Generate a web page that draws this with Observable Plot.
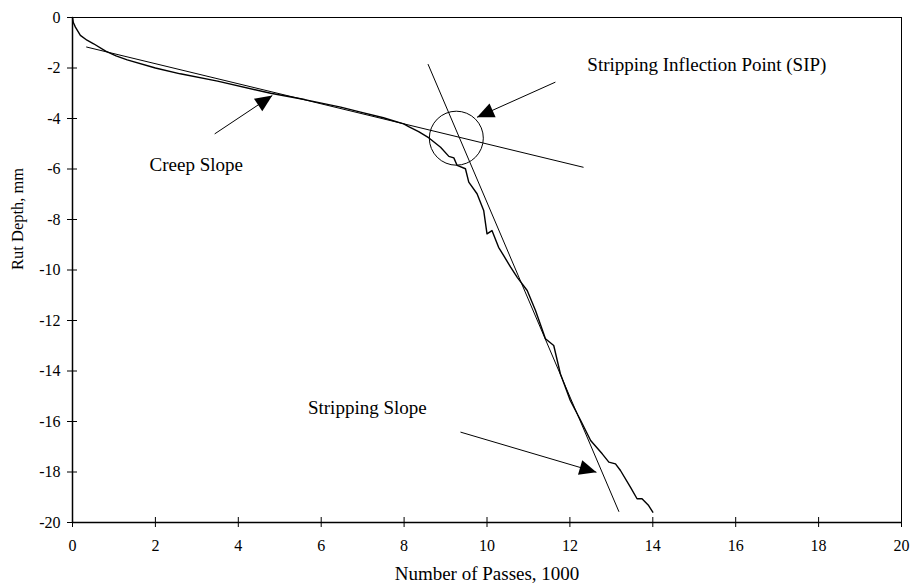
<!DOCTYPE html>
<html>
<head>
<meta charset="utf-8">
<script src="https://cdn.jsdelivr.net/npm/d3@7"></script>
<script src="https://cdn.jsdelivr.net/npm/@observablehq/plot@0.6"></script>
<style>
  html, body { margin: 0; padding: 0; background: #fff; }
  #chart svg { display: block; }
</style>
</head>
<body>
<div id="chart"></div>
<script>
// Measured rut depth (mm) against wheel passes (thousands)
const passes = [0, 0.02, 0.07, 0.19, 0.35, 0.51, 0.80, 1.05, 1.32, 2.0, 2.60, 3.5, 4.78, 5.6,
  6.47, 6.95, 7.5, 7.99, 8.11, 8.35, 8.60, 8.88, 9.08, 9.20, 9.28, 9.48, 9.56, 9.76, 9.92,
  10.00, 10.12, 10.28, 10.41, 10.57, 10.73, 10.97, 11.17, 11.41, 11.61, 11.77, 12.01, 12.26,
  12.50, 12.78, 12.94, 13.10, 13.22, 13.46, 13.62, 13.74, 13.90, 14.00];
const rutDepth = [0, -0.2, -0.38, -0.71, -0.9, -1.04, -1.33, -1.52, -1.68, -2.0, -2.23, -2.52, -3.00, -3.25,
  -3.55, -3.75, -3.97, -4.21, -4.32, -4.52, -4.77, -5.14, -5.50, -5.56, -5.86, -5.99, -6.52, -6.98, -7.64,
  -8.57, -8.44, -9.10, -9.45, -9.89, -10.29, -10.81, -11.60, -12.72, -12.99, -14.11, -15.17, -15.96,
  -16.75, -17.28, -17.61, -17.68, -17.94, -18.60, -19.06, -19.06, -19.33, -19.59];

// Fitted tangent lines (end points)
const creepLineX = [0.34, 12.32];
const creepLineY = [-1.17, -5.93];
const strippingLineX = [8.58, 13.18];
const strippingLineY = [-1.86, -19.56];

// Stripping inflection point marker
const sipX = [9.26];
const sipY = [-4.78];

// Annotation labels and their pointer arrows
const noteText = ["Creep Slope", "Stripping Inflection Point (SIP)", "Stripping Slope"];
const noteX = [1.86, 12.42, 5.68];
const noteY = [-5.85, -1.86, -15.45];
const arrowX1 = [3.43, 11.65, 9.36];
const arrowY1 = [-4.61, -2.56, -16.42];
const arrowX2 = [4.82, 9.76, 12.64];
const arrowY2 = [-3.09, -3.95, -18.01];

// Axis ticks
const xTicks = [0, 2, 4, 6, 8, 10, 12, 14, 16, 18, 20];
const yTicks = [0, -2, -4, -6, -8, -10, -12, -14, -16, -18, -20];

const width = 912, height = 583;
const marginLeft = 72, marginRight = 11, marginTop = 17, marginBottom = 61;
const kx = (width - marginLeft - marginRight) / (xTicks[xTicks.length - 1] - xTicks[0]);
const ky = (height - marginTop - marginBottom) / (yTicks[0] - yTicks[yTicks.length - 1]);

const curve = passes.map((p, i) => ({p, r: rutDepth[i]}));
const creepLine = creepLineX.map((p, i) => ({p, r: creepLineY[i]}));
const strippingLine = strippingLineX.map((p, i) => ({p, r: strippingLineY[i]}));
const sip = sipX.map((p, i) => ({p, r: sipY[i]}));
const notes = noteText.map((t, i) => ({t, p: noteX[i], r: noteY[i]}));
const arrows = arrowX1.map((x1, i) => ({x1, y1: arrowY1[i], x2: arrowX2[i], y2: arrowY2[i]}));

// Filled arrowhead with its tip at the origin, pointing up
const arrowHead = {
  draw(context) {
    const h = 17, w = 15;
    context.moveTo(0, 0);
    context.lineTo(-w / 2, h);
    context.lineTo(w / 2, h);
    context.closePath();
  }
};
// Screen-space heading (degrees clockwise from up) of each arrow
const heading = d => Math.atan2((d.x2 - d.x1) * kx, (d.y2 - d.y1) * ky) * 180 / Math.PI;

const serif = "'Liberation Serif', 'Times New Roman', Times, serif";
const fmt = d => String(d);

const chart = Plot.plot({
  width, height, marginLeft, marginRight, marginTop, marginBottom,
  style: {fontFamily: serif, background: "#fff", color: "#000"},
  x: {domain: [0, 20], label: null},
  y: {domain: [-20, 0], label: null},
  marks: [
    Plot.frame({stroke: "#000", strokeWidth: 1}),
    Plot.ruleX([0], {stroke: "#000", strokeWidth: 1.5}),
    Plot.ruleY([-20], {stroke: "#000", strokeWidth: 1.7}),
    Plot.axisX(xTicks, {tickSize: 10, dy: -5, tickPadding: 12, tickFormat: fmt, fontSize: 16, label: null, stroke: "#000"}),
    Plot.axisY(yTicks, {tickSize: 10, dx: 5, tickPadding: 7, tickFormat: fmt, fontSize: 16, label: null, stroke: "#000"}),
    Plot.line(creepLine, {x: "p", y: "r", stroke: "#000", strokeWidth: 1}),
    Plot.line(strippingLine, {x: "p", y: "r", stroke: "#000", strokeWidth: 1}),
    Plot.line(curve, {x: "p", y: "r", stroke: "#000", strokeWidth: 1.4}),
    Plot.dot(sip, {x: "p", y: "r", r: 27, fill: "none", stroke: "#000", strokeWidth: 1}),
    Plot.link(arrows, {x1: "x1", y1: "y1", x2: "x2", y2: "y2", stroke: "#000", strokeWidth: 1}),
    Plot.dot(arrows, {x: "x2", y: "y2", symbol: arrowHead, rotate: heading, fill: "#000", stroke: "none"}),
    Plot.text(notes, {x: "p", y: "r", text: "t", textAnchor: "start", lineAnchor: "middle", fontSize: 19, fill: "#000"}),
    Plot.text(["Number of Passes, 1000"], {frameAnchor: "bottom", dy: 51.5, lineAnchor: "middle", fontSize: 19, fill: "#000"}),
    Plot.text(["Rut Depth, mm"], {frameAnchor: "left", dx: -54.5, rotate: -90, lineAnchor: "middle", fontSize: 16.5, fill: "#000"})
  ]
});
document.getElementById("chart").appendChild(chart);
</script>
</body>
</html>
